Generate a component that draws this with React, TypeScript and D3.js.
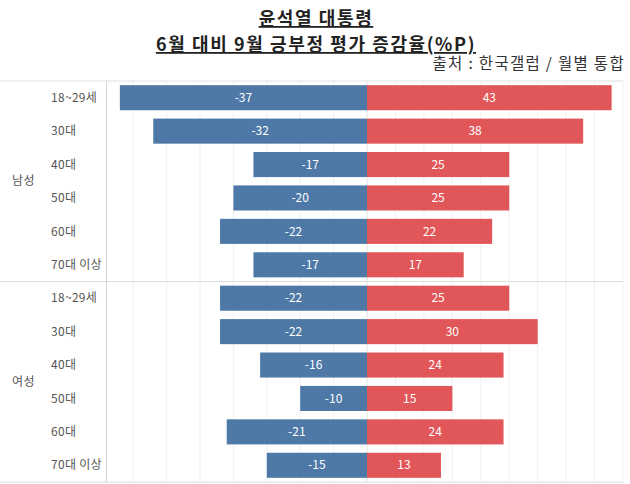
import React from "react";
import * as d3 from "d3";

const groups = ["남성", "여성"];
const ages = ["18~29세", "30대", "40대", "50대", "60대", "70대 이상"];
const negMale = [-37, -32, -17, -20, -22, -17];
const posMale = [43, 38, 25, 25, 22, 17];
const negFemale = [-22, -22, -16, -10, -21, -15];
const posFemale = [25, 30, 24, 15, 24, 13];
const gridTicksNeg = [-35, -30, -25, -20, -15, -10, -5];
const gridTicksPos = [5, 10, 15, 20, 25, 30, 35, 40, 45];

const titleLine1 = "윤석열 대통령";
const titleLine2 = "6월 대비 9월 긍부정 평가 증감율(%P)";
const sourceText = "출처 : 한국갤럽 / 월별 통합";

const W = 630;
const H = 484;
const FONT = "'Noto Sans CJK KR', 'Noto Sans', sans-serif";

export default function App() {
  const top = 81;
  const bottom = 482;
  const divX = 106.5;
  const zeroX = 367;
  const rightX = 623;

  const xNeg = d3.scaleLinear().domain([-39, 0]).range([divX, zeroX]);
  const xPos = d3.scaleLinear().domain([0, 45]).range([zeroX, rightX]);

  const rows = groups.flatMap((g, gi) =>
    ages.map((a, ai) => ({
      key: `${g}-${a}`,
      group: g,
      age: a,
      neg: gi === 0 ? negMale[ai] : negFemale[ai],
      pos: gi === 0 ? posMale[ai] : posFemale[ai],
    }))
  );

  const y = d3
    .scaleBand<string>()
    .domain(rows.map((r) => r.key))
    .range([top, bottom])
    .paddingInner(0.25)
    .paddingOuter(0.125);

  const step = y.step();
  const groupBounds = groups.map((g, gi) => {
    const y0 = top + gi * 6 * step;
    const y1 = top + (gi + 1) * 6 * step;
    return { g, y0, y1 };
  });

  const blue = "#4e79a7";
  const red = "#e15759";

  return (
    <svg
      width={W}
      height={H}
      style={{ position: "absolute", left: 0, top: 0, background: "#fff" }}
      fontFamily={FONT}
    >
      <rect x={0} y={0} width={W} height={H} fill="#fff" />
      {/* Title */}
      <text
        x={316}
        y={25}
        textAnchor="middle"
        fontSize={18}
        fontWeight="bold"
        fill="#222"
        letterSpacing={1.6}
        textDecoration="underline"
      >
        {titleLine1}
      </text>
      <text
        x={316}
        y={51}
        textAnchor="middle"
        fontSize={18}
        fontWeight="bold"
        fill="#222"
        letterSpacing={1.6}
        textDecoration="underline"
      >
        {titleLine2}
      </text>
      <text x={625} y={69} textAnchor="end" fontSize={15.5} letterSpacing={1.3} fill="#333">
        {sourceText}
      </text>

      {/* grid lines */}
      {gridTicksNeg.map((t) => (
        <line key={`gn${t}`} x1={xNeg(t)} x2={xNeg(t)} y1={top} y2={bottom} stroke="#f0f0f0" strokeWidth={1} />
      ))}
      {gridTicksPos.map((t) => (
        <line key={`gp${t}`} x1={xPos(t)} x2={xPos(t)} y1={top} y2={bottom} stroke="#f0f0f0" strokeWidth={1} />
      ))}
      <line x1={zeroX} x2={zeroX} y1={top} y2={bottom} stroke="#e4e4e4" strokeWidth={1} />

      {/* frame */}
      <line x1={0} x2={rightX} y1={top} y2={top} stroke="#e0e0e0" />
      {groupBounds.map((b) => (
        <line key={`sep${b.g}`} x1={0} x2={rightX} y1={b.y1} y2={b.y1} stroke="#dcdcdc" />
      ))}
      <line x1={divX} x2={divX} y1={top} y2={bottom} stroke="#d6d6d6" />

      {/* bars */}
      {rows.map((r) => {
        const by = y(r.key) as number;
        const bh = y.bandwidth();
        const nx = xNeg(r.neg);
        const px = xPos(r.pos);
        return (
          <g key={r.key}>
            <rect x={nx} y={by} width={zeroX - nx} height={bh} fill={blue} />
            <rect x={zeroX} y={by} width={px - zeroX} height={bh} fill={red} />
            <text
              x={(nx + zeroX) / 2}
              y={by + bh / 2}
              dy="0.35em"
              textAnchor="middle"
              fontSize={12}
              fill="#fff"
            >
              {r.neg}
            </text>
            <text
              x={(px + zeroX) / 2}
              y={by + bh / 2}
              dy="0.35em"
              textAnchor="middle"
              fontSize={12}
              fill="#fff"
            >
              {r.pos}
            </text>
            <text x={51} y={by + bh / 2} dy="0.35em" fontSize={12} letterSpacing={0.3} fill="#555">
              {r.age}
            </text>
          </g>
        );
      })}

      {/* group labels */}
      {groupBounds.map((b) => (
        <text key={`gl${b.g}`} x={12} y={(b.y0 + b.y1) / 2} dy="0.35em" fontSize={12} letterSpacing={0.5} fill="#555">
          {b.g}
        </text>
      ))}
    </svg>
  );
}
